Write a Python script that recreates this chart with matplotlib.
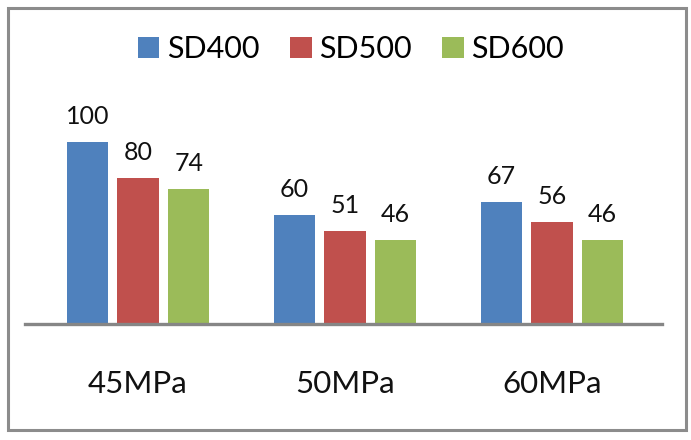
import matplotlib.pyplot as plt
import numpy as np
from matplotlib.patches import Rectangle

plt.rcParams["font.family"] = ["Lato", "DejaVu Sans"]

categories = ["45MPa", "50MPa", "60MPa"]
series_names = ["SD400", "SD500", "SD600"]
sd400 = [100, 60, 67]
sd500 = [80, 51, 56]
sd600 = [74, 46, 46]
colors = ["#4F81BD", "#C0504D", "#9BBB59"]


def main() -> None:
    fig = plt.figure(figsize=(6.91, 4.40), dpi=100)
    fig.patch.set_facecolor("white")

    # axes placed so baseline sits at y=324px and spans x 25..662px
    ax = fig.add_axes([25 / 691, (440 - 324) / 440, 637 / 691, 218.4 / 440])
    x = np.arange(len(categories))
    offsets = [-0.245, 0.0, 0.245]
    width = 0.2

    for vals, name, color, off in zip([sd400, sd500, sd600], series_names, colors, offsets):
        bars = ax.bar(x + off, vals, width=width, color=color, label=name, zorder=2)
        for b, v in zip(bars, vals):
            ax.annotate(
                f"{v}",
                xy=(b.get_x() + b.get_width() / 2, v),
                xytext=(0, 13),
                textcoords="offset points",
                ha="center",
                va="baseline",
                fontsize=18,
                color="#111111",
            )

    ax.set_xlim(-0.546, 2.531)
    ax.set_ylim(0, 120)
    for side in ("top", "right", "left"):
        ax.spines[side].set_visible(False)
    ax.spines["bottom"].set_color("#868686")
    ax.spines["bottom"].set_linewidth(2.4)
    ax.spines["bottom"].set_zorder(3)
    ax.set_yticks([])
    ax.set_xticks(x)
    ax.set_xticklabels(categories, fontsize=22.5, color="#111111")
    ax.tick_params(axis="x", length=0, pad=33)
    ax.set_facecolor("none")

    fig.legend(
        loc="center",
        bbox_to_anchor=(351 / 691, 1 - 49 / 440),
        ncol=3,
        frameon=False,
        fontsize=22,
        handlelength=0.7,
        handleheight=0.7,
        handletextpad=0.25,
        columnspacing=1.0,
    )

    fig.patches.append(
        Rectangle(
            (8 / 691, 1 - 430 / 440),
            678 / 691,
            422 / 440,
            transform=fig.transFigure,
            fill=False,
            edgecolor="#8C8C8C",
            linewidth=2.2,
        )
    )

    fig.savefig("out.png", dpi=100)
    plt.close(fig)


if __name__ == "__main__":
    main()
